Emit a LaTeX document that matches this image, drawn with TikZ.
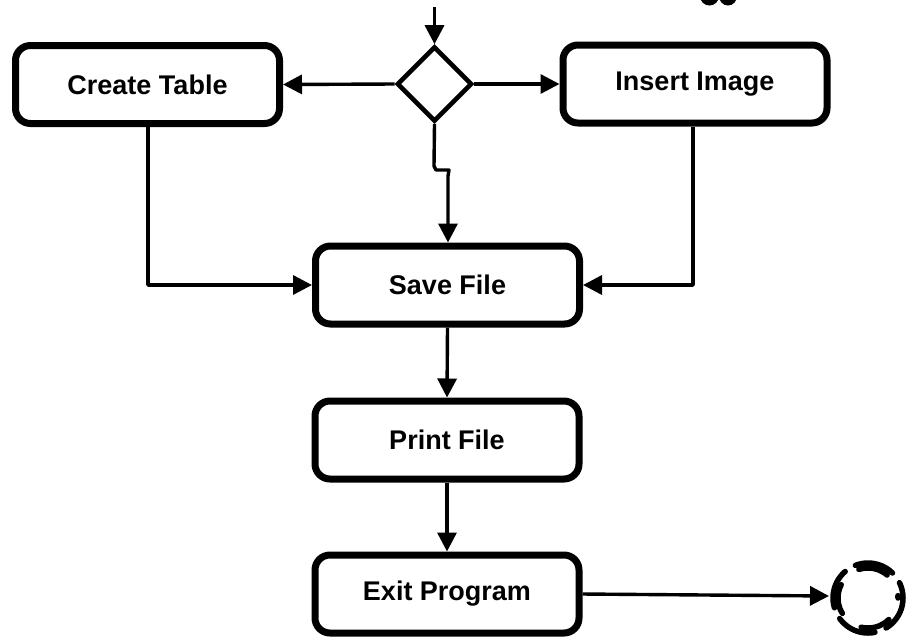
\documentclass[tikz,border=0pt]{standalone}
\usepackage{fontspec}
\setmainfont{Liberation Sans}
\usetikzlibrary{shapes.geometric,arrows.meta}
\begin{document}
\begin{tikzpicture}[x=1pt,y=-1pt,
  box/.style={draw=black, line width=7pt, rounded corners=15pt, fill=white,
    minimum width=264pt, minimum height=78pt, inner sep=0pt,
    font=\fontsize{27}{30}\selectfont\bfseries},
  dec/.style={draw=black, line width=4.6pt, shape=diamond, aspect=1,
    minimum width=75pt, minimum height=75pt, inner sep=0pt},
  conn/.style={draw=black, line width=3.4pt, line join=round,
    -{Triangle[length=19pt,width=19pt]}},
  endring/.style={draw=black, line width=5.5pt, line cap=round}
]
\useasboundingbox (0,0) rectangle (907,641);
\fill[white] (0,0) rectangle (907,641);

% fragment of cut-off text at the top edge
\begin{scope}
\clip (0,0) rectangle (907,641);
\fill[black] (700,-4) arc[start angle=180, end angle=0, x radius=9.5, y radius=9.5] -- cycle;
\fill[black] (719,-4) arc[start angle=180, end angle=0, x radius=9, y radius=9.5] -- cycle;
\end{scope}

\node[box] (ct) at (147.5,84.5) {Create Table};
\node[dec] (d) at (434.5,84) {};
\node[box] (ii) at (695,84) {Insert Image};
\node[box] (sf) at (447.5,285) {Save File};
\node[box] (pf) at (447,440) {Print File};
\node[box] (ep) at (447,594) {Exit Program};

\coordinate (start) at (434.5,7);
\coordinate (endc) at (868,598);

\draw[conn] (start) -- (d.north);
\draw[conn] (d.west) -- (ct.east);
\draw[conn] (d.east) -- (ii.west);
\draw[conn] (d.south) -- (434,166) -- (436,170) -- (449,170) -- (448,176) -- (sf.north -| 448,0);
\draw[conn] (ct.south -| 148,0) |- (sf.west);
\draw[conn] (ii.south -| 693,0) |- (sf.east);
\draw[conn] (sf.south) -- (pf.north);
\draw[conn] (pf.south) -- (ep.north);
\draw[conn] (ep.east) -- (829,596);

% sketchy dashed end ring
\draw[endring, dash pattern=on 40pt off 12pt, dash phase=4pt] (endc) circle[radius=35];
\draw[endring, dash pattern=on 30pt off 24pt, dash phase=30pt] (endc) circle[radius=30];
\end{tikzpicture}
\end{document}
